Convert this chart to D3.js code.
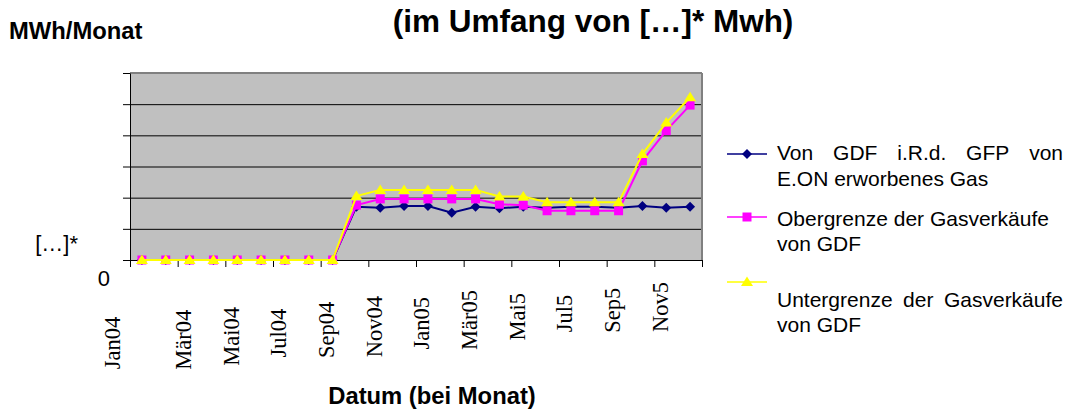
<!DOCTYPE html>
<html>
<head>
<meta charset="utf-8">
<script src="https://cdn.jsdelivr.net/npm/d3@7"></script>
<style>
  html, body { margin: 0; padding: 0; background: #fff; }
  svg { display: block; }
  .sans { font-family: "Liberation Sans", Arial, sans-serif; }
  .serif { font-family: "Liberation Serif", "Times New Roman", serif; }
</style>
</head>
<body>
<svg id="chart" width="1066" height="411"></svg>
<script>
// ---------------- DATA ----------------
const categories = ["Jan04","Feb04","Mär04","Apr04","Mai04","Jun04","Jul04","Aug04","Sep04","Okt04","Nov04","Dez04",
                    "Jan05","Feb05","Mär05","Apr05","Mai5","Jun5","Jul5","Aug5","Sep5","Okt5","Nov5","Dez5"];
const tickLabels = ["Jan04","Mär04","Mai04","Jul04","Sep04","Nov04","Jan05","Mär05","Mai5","Jul5","Sep5","Nov5"];
const yTicks = [0, 1, 2, 3, 4, 5, 6];
const yTickLabels = ["0", "[…]*", "", "", "", "", ""];

const gasErworben = [0,0,0,0,0,0,0,0,0, 1.71,1.68,1.73,1.73,1.52,1.71,1.66,1.71,1.68,1.71,1.71,1.68,1.73,1.68,1.71];
const obergrenze  = [0,0,0,0,0,0,0,0,0, 1.76,1.96,1.96,1.96,1.96,1.96,1.79,1.76,1.58,1.58,1.58,1.58,3.18,4.15,4.97];
const untergrenze = [0,0,0,0,0,0,0,0,0, 2.05,2.25,2.25,2.25,2.25,2.25,2.04,2.04,1.85,1.85,1.85,1.85,3.40,4.41,5.22];

const seriesNames = [
  ["Von GDF i.R.d. GFP von", "E.ON erworbenes Gas"],
  ["Obergrenze der Gasverkäufe", "von GDF"],
  ["Untergrenze der Gasverkäufe", "von GDF"]
];
const titleText = "(im Umfang von […]* Mwh)";
const yAxisTitle = "MWh/Monat";
const xAxisTitle = "Datum (bei Monat)";

// ---------------- LAYOUT ----------------
const svg = d3.select("#chart");
const L = 130, R = 702, T = 73, B = 260;

const x = d3.scaleBand().domain(categories).range([L, R]).paddingInner(0).paddingOuter(0);
const xb = d3.scaleLinear().domain([0, categories.length]).range([L, R]);
const y = d3.scaleLinear().domain([0, 6]).range([B, T]);
const cx = (d, i) => x(categories[i]) + x.bandwidth() / 2;

// plot background
svg.append("rect").attr("x", L).attr("y", T).attr("width", R - L).attr("height", B - T).attr("fill", "#c0c0c0");

// gridlines
svg.append("g")
  .attr("transform", `translate(${L},0)`)
  .call(d3.axisLeft(y).tickValues(yTicks.slice(1, -1)).tickSize(-(R - L)).tickFormat(""))
  .call(g => g.select(".domain").remove())
  .call(g => g.selectAll("line").attr("stroke", "#000").attr("stroke-width", 1));

// plot border top/right
svg.append("line").attr("x1", L).attr("x2", R).attr("y1", T).attr("y2", T).attr("stroke", "#808080").attr("stroke-width", 2);
svg.append("line").attr("x1", R).attr("x2", R).attr("y1", T).attr("y2", B).attr("stroke", "#808080").attr("stroke-width", 2);

// y axis ticks
svg.append("g")
  .attr("transform", `translate(${L},0)`)
  .call(d3.axisLeft(y).tickValues(yTicks).tickSize(7).tickSizeOuter(0).tickFormat(""))
  .call(g => g.selectAll("line,path").attr("stroke", "#000").attr("stroke-width", 1));

// x axis ticks
svg.append("g")
  .attr("transform", `translate(0,${B})`)
  .call(d3.axisBottom(xb).tickValues(d3.range(0, categories.length + 1, 2)).tickSize(7).tickSizeOuter(0).tickFormat(""))
  .call(g => g.selectAll("line,path").attr("stroke", "#000").attr("stroke-width", 1));

// y tick labels (offset like the original)
const yLabelPos = { "0": { x: 110, dy: 26 }, "[…]*": { x: 78, dy: 22 } };
svg.append("g").selectAll("text")
  .data(yTicks.filter((t, i) => yTickLabels[i] !== ""))
  .join("text")
  .attr("class", "sans")
  .attr("font-size", 22)
  .attr("text-anchor", "end")
  .attr("x", t => yLabelPos[yTickLabels[t]].x)
  .attr("y", t => y(t) + yLabelPos[yTickLabels[t]].dy)
  .text(t => yTickLabels[t]);

// x tick labels (rotated, serif)
const labelY = d3.scaleLinear().domain([0, tickLabels.length - 1]).range([343, 307]);
svg.append("g").selectAll("text")
  .data(tickLabels)
  .join("text")
  .attr("class", "serif")
  .attr("font-size", 22.5)
  .attr("text-anchor", "middle")
  .attr("dy", "0.33em")
  .attr("transform", (d, j) => {
    const tx = j === 0 ? xb(0) - 17.5 : xb(2 * j) + 6;
    return `translate(${tx},${labelY(j)}) rotate(-90)`;
  })
  .text(d => d);

// series
const diamond = "M0,-5L5,0L0,5L-5,0Z";
const square = "M-4.5,-4.5H4.5V4.5H-4.5Z";
const triangle = "M0,-5.5L6,4L-6,4Z";
const series = [
  { values: gasErworben, color: "#000080", marker: diamond },
  { values: obergrenze, color: "#ff00ff", marker: square },
  { values: untergrenze, color: "#ffff00", marker: triangle }
];
const line = d3.line().x(cx).y(d => y(d));

series.forEach(s => {
  const g = svg.append("g");
  g.append("path").datum(s.values).attr("d", line)
    .attr("fill", "none").attr("stroke", s.color).attr("stroke-width", 2);
  g.selectAll("path.m").data(s.values).join("path").attr("class", "m")
    .attr("d", s.marker)
    .attr("transform", (d, i) => `translate(${cx(d, i)},${y(d)})`)
    .attr("fill", s.color);
});

// titles
svg.append("text").attr("class", "sans").attr("font-weight", "bold").attr("font-size", 31.5)
  .attr("text-anchor", "middle").attr("x", 593).attr("y", 32).text(titleText);
svg.append("text").attr("class", "sans").attr("font-weight", "bold").attr("font-size", 23.8)
  .attr("x", 9).attr("y", 39).text(yAxisTitle);
svg.append("text").attr("class", "sans").attr("font-weight", "bold").attr("font-size", 23.8)
  .attr("text-anchor", "middle").attr("x", 432).attr("y", 404).text(xAxisTitle);

// legend
const legY = [154, 217, 282];
const textY = [[160, 185.5], [226, 250.5], [306.5, 331.5]];
const justify = [[true, false], [false, false], [true, false]];
const tx0 = 777, tx1 = 1063;

function drawLine(str, yy, just) {
  if (!just) {
    svg.append("text").attr("class", "sans").attr("font-size", 21).attr("x", tx0).attr("y", yy).text(str);
    return;
  }
  const words = str.split(" ");
  const nodes = words.map(w => svg.append("text").attr("class", "sans").attr("font-size", 21).attr("y", yy).text(w));
  const widths = nodes.map(n => n.node().getComputedTextLength());
  const total = d3.sum(widths);
  const gap = (tx1 - tx0 - total) / (words.length - 1);
  let pos = tx0;
  nodes.forEach((n, i) => { n.attr("x", pos); pos += widths[i] + gap; });
}

series.forEach((s, k) => {
  const g = svg.append("g");
  g.append("line").attr("x1", 727).attr("x2", 767).attr("y1", legY[k]).attr("y2", legY[k])
    .attr("stroke", s.color).attr("stroke-width", 1.5);
  g.append("path").attr("d", s.marker).attr("transform", `translate(747,${legY[k]})`).attr("fill", s.color);
  seriesNames[k].forEach((str, j) => drawLine(str, textY[k][j], justify[k][j]));
});
</script>
</body>
</html>
